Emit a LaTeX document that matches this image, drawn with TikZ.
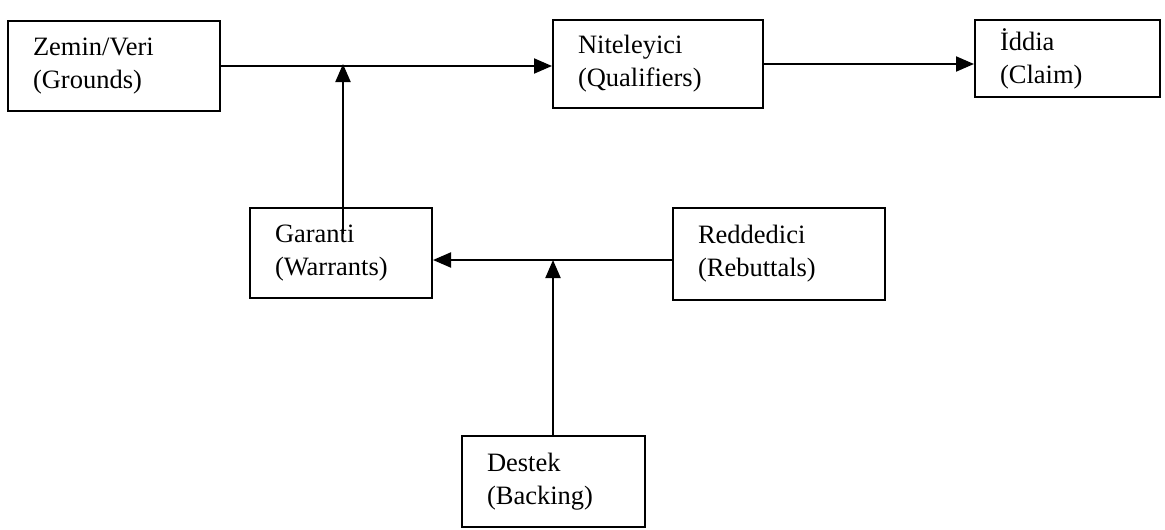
\documentclass[tikz,border=0pt]{standalone}
\usepackage{fontspec}
\setmainfont{Liberation Serif}
\usetikzlibrary{arrows.meta,positioning}

\begin{document}
\begin{tikzpicture}[x=1pt,y=-1pt,>={Triangle[length=18pt,width=15pt]},line width=2pt,
  tbox/.style={draw,inner xsep=25pt,inner ysep=0pt,align=left,font=\fontsize{26.5}{33}\selectfont}]
  \useasboundingbox (0,0) rectangle (1165,530);
  \node[tbox,text width=162pt,minimum height=90pt] (zemin) at (114,66) {Zemin/Veri\\(Grounds)};
  \node[tbox,text width=160pt,minimum height=88pt] (nitel) at (658,64) {Niteleyici\\(Qualifiers)};
  \node[tbox,text width=135pt,minimum height=77pt] (iddia) at (1067.5,58.5) {İddia\\(Claim)};
  \node[tbox,text width=132pt,minimum height=90pt] (garanti) at (341,253) {Garanti\\(Warrants)};
  \node[tbox,text width=162pt,minimum height=92pt] (redd) at (779,254) {Reddedici\\(Rebuttals)};
  \node[tbox,text width=133pt,minimum height=91pt] (destek) at (553.5,481.5) {Destek\\(Backing)};
  \coordinate (gtop) at (343,64);
  \coordinate (dtop) at (553,260);
  \draw[->] (zemin.east) -- (nitel.west |- zemin.east);
  \draw[->] (nitel.east) -- (iddia.west |- nitel.east);
  \draw[->] ([yshift=-27pt]garanti.north -| gtop) -- (gtop);
  \draw[->] (redd.west |- dtop) -- (garanti.east |- dtop);
  \draw[->] (destek.north -| dtop) -- (dtop);
\end{tikzpicture}
\end{document}
